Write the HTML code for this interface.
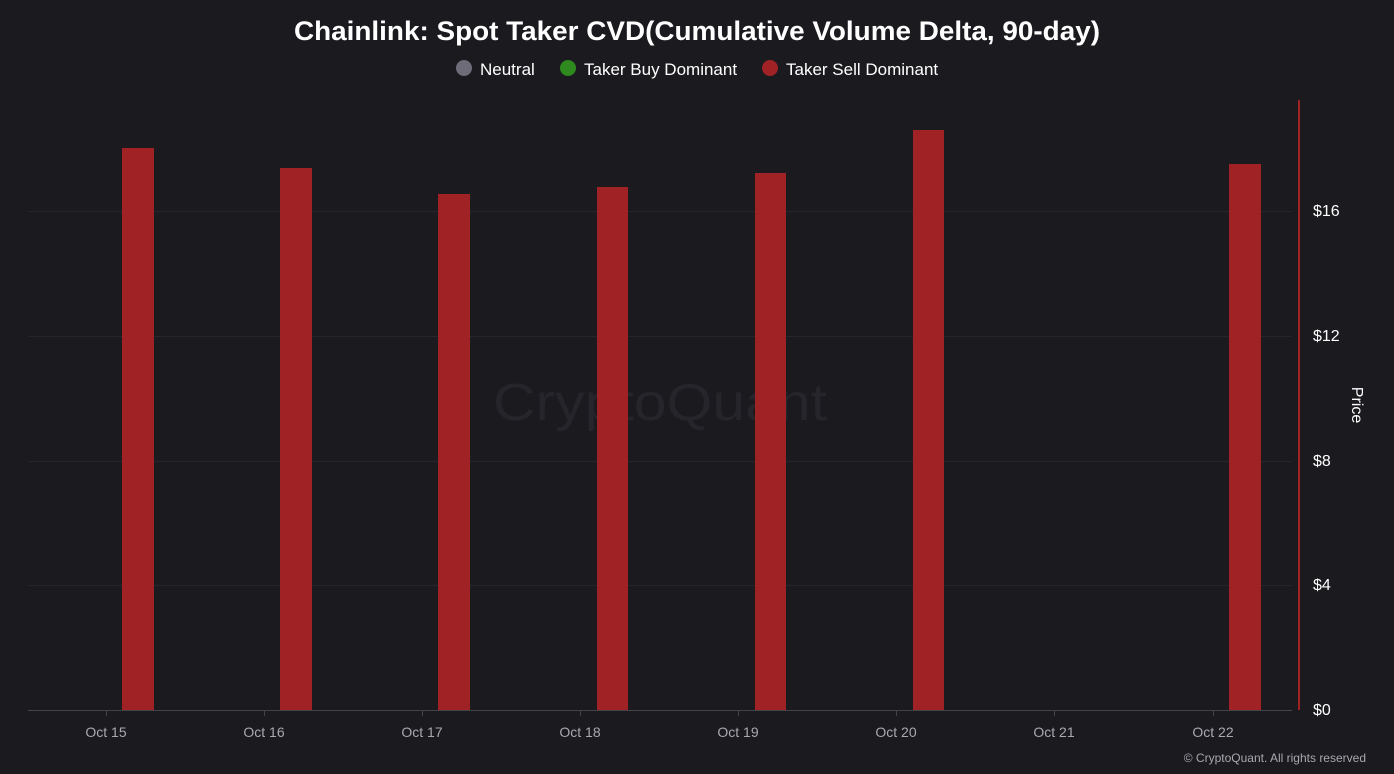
<!DOCTYPE html><html><head><style>body{margin:0;background:#1b1a1f;}</style></head><body>
<svg width="1394" height="774" xmlns="http://www.w3.org/2000/svg" style="display:block;font-family:'Liberation Sans',sans-serif">
<rect width="1394" height="774" fill="#1b1a1f"/>
<text x="294" y="40" fill="#fff" font-size="27" font-weight="bold" textLength="806" lengthAdjust="spacingAndGlyphs">Chainlink: Spot Taker CVD(Cumulative Volume Delta, 90-day)</text>
<circle cx="464" cy="68" r="8" fill="#6e6c78"/><text x="480" y="75" fill="#fff" font-size="17">Neutral</text>
<circle cx="568" cy="68" r="8" fill="#2e8a1e"/><text x="584" y="75" fill="#fff" font-size="17">Taker Buy Dominant</text>
<circle cx="770" cy="68" r="8" fill="#a02224"/><text x="786" y="75" fill="#fff" font-size="17">Taker Sell Dominant</text>
<g stroke="#26252b" stroke-width="1"><line x1="28" x2="1292" y1="211.5" y2="211.5"/><line x1="28" x2="1292" y1="336.5" y2="336.5"/><line x1="28" x2="1292" y1="461.5" y2="461.5"/><line x1="28" x2="1292" y1="585.5" y2="585.5"/></g>
<text x="493" y="420" fill="#26252b" font-size="52" textLength="334" lengthAdjust="spacingAndGlyphs">CryptoQuant</text>
<g fill="#a02224">
<rect x="122" y="148" width="32" height="562"/><rect x="280" y="168" width="32" height="542"/><rect x="438" y="194" width="32" height="516"/><rect x="597" y="187" width="31" height="523"/><rect x="755" y="173" width="31" height="537"/><rect x="913" y="130" width="31" height="580"/><rect x="1229" y="164" width="32" height="546"/>
</g>
<line x1="28" x2="1292" y1="710.5" y2="710.5" stroke="#44434a"/>
<line x1="1299" x2="1299" y1="100" y2="710" stroke="#a02224" stroke-width="2"/>
<g stroke="#44434a"><line x1="106.5" x2="106.5" y1="710" y2="716"/><line x1="264.5" x2="264.5" y1="710" y2="716"/><line x1="422.5" x2="422.5" y1="710" y2="716"/><line x1="580.5" x2="580.5" y1="710" y2="716"/><line x1="738.5" x2="738.5" y1="710" y2="716"/><line x1="896.5" x2="896.5" y1="710" y2="716"/><line x1="1054.5" x2="1054.5" y1="710" y2="716"/><line x1="1213.5" x2="1213.5" y1="710" y2="716"/></g>
<g fill="#a9a8b0" font-size="14" text-anchor="middle"><text x="106" y="737">Oct 15</text><text x="264" y="737">Oct 16</text><text x="422" y="737">Oct 17</text><text x="580" y="737">Oct 18</text><text x="738" y="737">Oct 19</text><text x="896" y="737">Oct 20</text><text x="1054" y="737">Oct 21</text><text x="1213" y="737">Oct 22</text></g>
<g fill="#fff" font-size="16"><text x="1313" y="216">$16</text><text x="1313" y="341">$12</text><text x="1313" y="466">$8</text><text x="1313" y="590">$4</text><text x="1313" y="715">$0</text></g>
<text transform="translate(1352,405) rotate(90)" text-anchor="middle" fill="#fff" font-size="16">Price</text>
<text x="1366" y="762" text-anchor="end" fill="#a9a8b0" font-size="12">© CryptoQuant. All rights reserved</text>
</svg></body></html>
